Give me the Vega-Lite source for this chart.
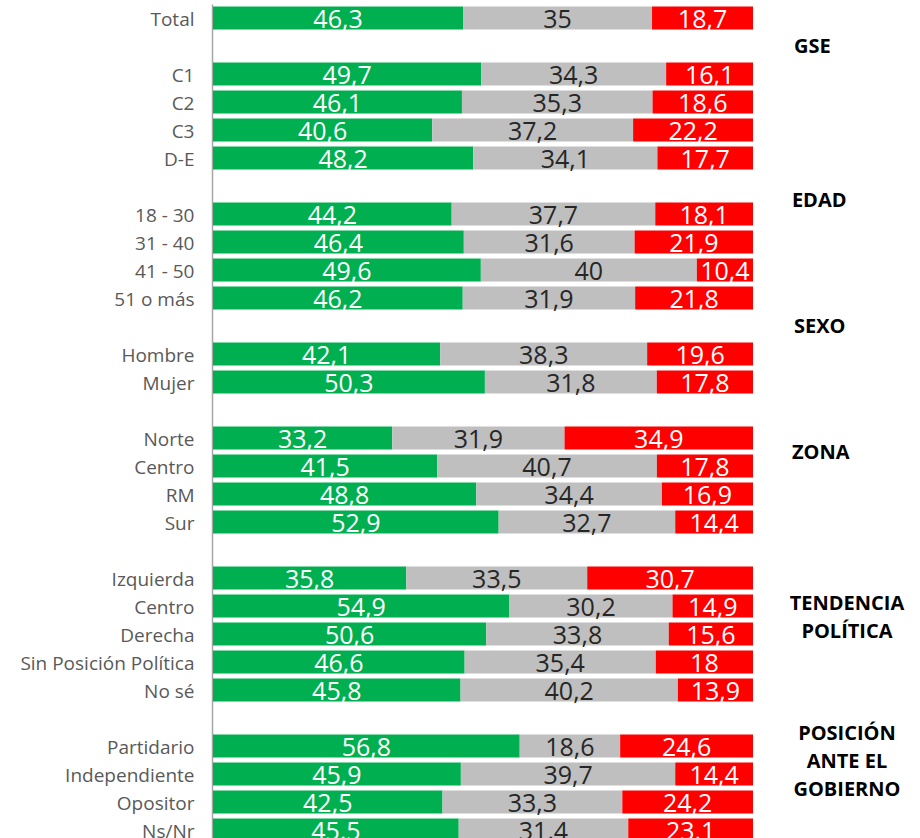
{
  "$schema": "https://vega.github.io/schema/vega-lite/v6.json",
  "width": 540,
  "height": 840,
  "autosize": {"type": "none"},
  "padding": {"left": 213, "top": 4, "right": 167, "bottom": 0},
  "background": "white",
  "config": {
    "view": {"stroke": null},
    "font": "Open Sans",
    "locale": {"number": {"decimal": ",", "thousands": ".", "grouping": [3], "currency": ["$", ""]}}
  },
  "datasets": {
    "rows": [
      {"k": "0|Total", "Positivo": 46.3, "Neutral": 35, "Negativo": 18.7},
      {"k": "gse|C1", "Positivo": 49.7, "Neutral": 34.3, "Negativo": 16.1},
      {"k": "gse|C2", "Positivo": 46.1, "Neutral": 35.3, "Negativo": 18.6},
      {"k": "gse|C3", "Positivo": 40.6, "Neutral": 37.2, "Negativo": 22.2},
      {"k": "gse|D-E", "Positivo": 48.2, "Neutral": 34.1, "Negativo": 17.7},
      {"k": "edad|18 - 30", "Positivo": 44.2, "Neutral": 37.7, "Negativo": 18.1},
      {"k": "edad|31 - 40", "Positivo": 46.4, "Neutral": 31.6, "Negativo": 21.9},
      {"k": "edad|41 - 50", "Positivo": 49.6, "Neutral": 40, "Negativo": 10.4},
      {"k": "edad|51 o más", "Positivo": 46.2, "Neutral": 31.9, "Negativo": 21.8},
      {"k": "sexo|Hombre", "Positivo": 42.1, "Neutral": 38.3, "Negativo": 19.6},
      {"k": "sexo|Mujer", "Positivo": 50.3, "Neutral": 31.8, "Negativo": 17.8},
      {"k": "zona|Norte", "Positivo": 33.2, "Neutral": 31.9, "Negativo": 34.9},
      {"k": "zona|Centro", "Positivo": 41.5, "Neutral": 40.7, "Negativo": 17.8},
      {"k": "zona|RM", "Positivo": 48.8, "Neutral": 34.4, "Negativo": 16.9},
      {"k": "zona|Sur", "Positivo": 52.9, "Neutral": 32.7, "Negativo": 14.4},
      {"k": "tend|Izquierda", "Positivo": 35.8, "Neutral": 33.5, "Negativo": 30.7},
      {"k": "tend|Centro\u00a0", "Positivo": 54.9, "Neutral": 30.2, "Negativo": 14.9},
      {"k": "tend|Derecha", "Positivo": 50.6, "Neutral": 33.8, "Negativo": 15.6},
      {"k": "tend|Sin Posición Política", "Positivo": 46.6, "Neutral": 35.4, "Negativo": 18},
      {"k": "tend|No sé", "Positivo": 45.8, "Neutral": 40.2, "Negativo": 13.9},
      {"k": "pos|Partidario\u00a0", "Positivo": 56.8, "Neutral": 18.6, "Negativo": 24.6},
      {"k": "pos|Independiente", "Positivo": 45.9, "Neutral": 39.7, "Negativo": 14.4},
      {"k": "pos|Opositor", "Positivo": 42.5, "Neutral": 33.3, "Negativo": 24.2},
      {"k": "pos|Ns/Nr", "Positivo": 45.5, "Neutral": 31.4, "Negativo": 23.1}
    ]
  },
  "layer": [
    {
      "data": {"name": "rows"},
      "transform": [{"fold": ["Positivo", "Neutral", "Negativo"], "as": ["s", "v"]}],
      "mark": {"type": "bar"},
      "encoding": {
        "y": {
          "field": "k",
          "type": "nominal",
          "scale": {
            "domain": ["0|Total", "b1|", "gse|C1", "gse|C2", "gse|C3", "gse|D-E", "b2|", "edad|18 - 30", "edad|31 - 40", "edad|41 - 50", "edad|51 o más", "b3|", "sexo|Hombre", "sexo|Mujer", "b4|", "zona|Norte", "zona|Centro", "zona|RM", "zona|Sur", "b5|", "tend|Izquierda", "tend|Centro\u00a0", "tend|Derecha", "tend|Sin Posición Política", "tend|No sé", "b6|", "pos|Partidario\u00a0", "pos|Independiente", "pos|Opositor", "pos|Ns/Nr"],
            "paddingInner": 0.18,
            "paddingOuter": 0.09
          },
          "axis": {
            "title": null,
            "ticks": false,
            "grid": false,
            "labelExpr": "split(datum.value, '|')[1]",
            "labelFont": "Open Sans",
            "labelFontSize": 19,
            "labelColor": "#595959",
            "labelPadding": 18,
            "labelOffset": 2,
            "labelLimit": 400,
            "domainColor": "#a6a6a6",
            "domainWidth": 1.5,
            "offset": 1
          }
        },
        "x": {
          "field": "v",
          "type": "quantitative",
          "stack": "normalize",
          "scale": {"domain": [0, 1], "nice": false},
          "axis": null
        },
        "color": {
          "field": "s",
          "type": "nominal",
          "scale": {"domain": ["Positivo", "Neutral", "Negativo"], "range": ["#00B050", "#BFBFBF", "#FF0000"]},
          "legend": null
        },
        "order": {"field": "s", "sort": "descending"}
      }
    },
    {
      "data": {"name": "rows"},
      "transform": [{"fold": ["Positivo", "Neutral", "Negativo"], "as": ["s", "v"]}],
      "mark": {"type": "text", "baseline": "alphabetic", "dy": 9.5, "fontSize": 25, "font": "Open Sans"},
      "encoding": {
        "y": {"field": "k", "type": "nominal"},
        "x": {"field": "v", "type": "quantitative", "stack": "normalize", "bandPosition": 0.5},
        "detail": {"field": "s"},
        "order": {"field": "s", "sort": "descending"},
        "text": {"field": "v", "type": "quantitative", "format": ".1~f"},
        "color": {"condition": {"test": "datum.s === 'Neutral'", "value": "#262626"}, "value": "#ffffff"}
      }
    },
    {
      "data": {"values": [{"k": "b1|", "g": "GSE"}, {"k": "b3|", "g": "SEXO"}]},
      "mark": {"type": "text", "align": "left", "baseline": "middle", "dy": 1, "fontSize": 20, "fontWeight": "bold", "font": "Open Sans", "color": "#000000"},
      "encoding": {
        "y": {"field": "k", "type": "nominal"},
        "x": {"datum": 1.076, "type": "quantitative"},
        "text": {"field": "g"}
      }
    },
    {
      "data": {"values": [{"k": "b2|", "g": "EDAD"}, {"k": "zona|Norte", "g": "ZONA"}]},
      "mark": {"type": "text", "align": "left", "baseline": "middle", "dy": 14.5, "fontSize": 20, "fontWeight": "bold", "font": "Open Sans", "color": "#000000"},
      "encoding": {
        "y": {"field": "k", "type": "nominal"},
        "x": {"datum": 1.072, "type": "quantitative"},
        "text": {"field": "g"}
      }
    },
    {
      "data": {"values": [{"k": "tend|Centro\u00a0", "g": "TENDENCIA\nPOLÍTICA"}]},
      "mark": {"type": "text", "align": "center", "baseline": "middle", "dy": -2.5, "lineBreak": "\n", "lineHeight": 28, "fontSize": 20, "fontWeight": "bold", "font": "Open Sans", "color": "#000000"},
      "encoding": {
        "y": {"field": "k", "type": "nominal"},
        "x": {"datum": 1.174, "type": "quantitative"},
        "text": {"field": "g"}
      }
    },
    {
      "data": {"values": [{"k": "pos|Partidario\u00a0", "g": "POSICIÓN\nANTE EL\nGOBIERNO"}]},
      "mark": {"type": "text", "align": "center", "baseline": "middle", "dy": -12.5, "lineBreak": "\n", "lineHeight": 28, "fontSize": 20, "fontWeight": "bold", "font": "Open Sans", "color": "#000000"},
      "encoding": {
        "y": {"field": "k", "type": "nominal"},
        "x": {"datum": 1.174, "type": "quantitative"},
        "text": {"field": "g"}
      }
    }
  ]
}
